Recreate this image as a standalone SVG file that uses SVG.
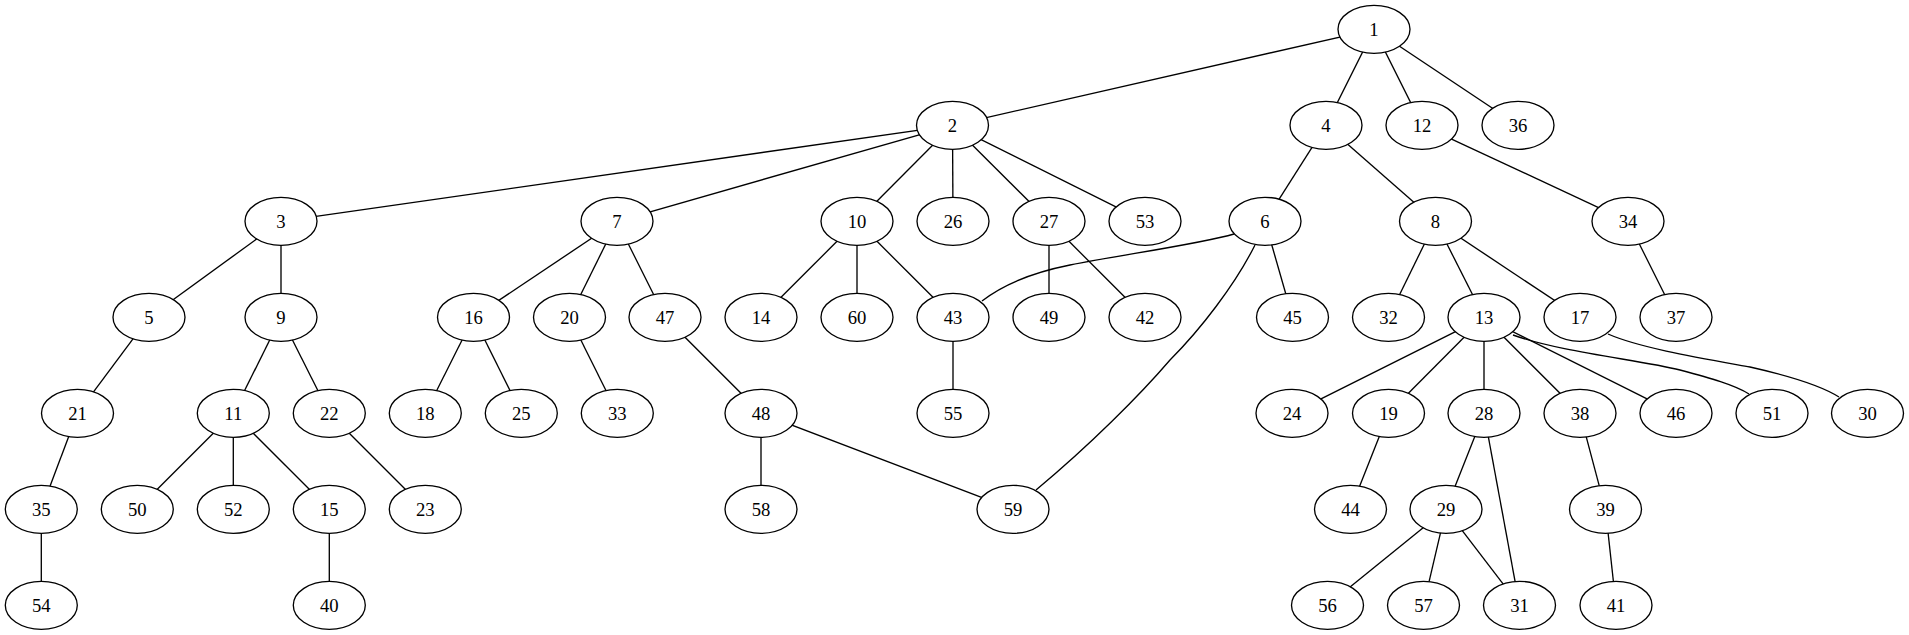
<svg xmlns="http://www.w3.org/2000/svg" width="1909" height="635" viewBox="0 0 1909 635">
<style>
.e{fill:none;stroke:#000;stroke-width:1.33}
.n ellipse{fill:#fff;stroke:#000;stroke-width:1.33}
.n text{font-family:"Liberation Serif","Times New Roman",serif;font-size:18.67px;text-anchor:middle;fill:#000}
</style>
<rect width="1909" height="635" fill="#fff"/>
<g id="edges" class="e">
<line x1="1374" y1="29.3" x2="952.5" y2="125.3"/>
<line x1="1374" y1="29.3" x2="1326" y2="125.3"/>
<line x1="1374" y1="29.3" x2="1422" y2="125.3"/>
<line x1="1374" y1="29.3" x2="1518" y2="125.3"/>
<line x1="952.5" y1="125.3" x2="281" y2="221.3"/>
<line x1="952.5" y1="125.3" x2="617" y2="221.3"/>
<line x1="952.5" y1="125.3" x2="857" y2="221.3"/>
<line x1="952.5" y1="125.3" x2="953" y2="221.3"/>
<line x1="952.5" y1="125.3" x2="1049" y2="221.3"/>
<line x1="952.5" y1="125.3" x2="1145" y2="221.3"/>
<line x1="1326" y1="125.3" x2="1265" y2="221.3"/>
<line x1="1326" y1="125.3" x2="1435.5" y2="221.3"/>
<line x1="1422" y1="125.3" x2="1628" y2="221.3"/>
<line x1="281" y1="221.3" x2="149" y2="317.3"/>
<line x1="281" y1="221.3" x2="281" y2="317.3"/>
<line x1="617" y1="221.3" x2="473.5" y2="317.3"/>
<line x1="617" y1="221.3" x2="569.5" y2="317.3"/>
<line x1="617" y1="221.3" x2="665" y2="317.3"/>
<line x1="857" y1="221.3" x2="761" y2="317.3"/>
<line x1="857" y1="221.3" x2="857" y2="317.3"/>
<line x1="857" y1="221.3" x2="953" y2="317.3"/>
<line x1="1049" y1="221.3" x2="1049" y2="317.3"/>
<line x1="1049" y1="221.3" x2="1145" y2="317.3"/>
<path d="M1234,234 C1200,244 1120,255 1070,265 C1030,273 1000,287 982,301"/>
<line x1="1265" y1="221.3" x2="1292.5" y2="317.3"/>
<path d="M1255,245 C1235,285 1200,330 1170,360 C1140,395 1090,445 1036,490"/>
<line x1="1435.5" y1="221.3" x2="1388.5" y2="317.3"/>
<line x1="1435.5" y1="221.3" x2="1484" y2="317.3"/>
<line x1="1435.5" y1="221.3" x2="1580" y2="317.3"/>
<line x1="1628" y1="221.3" x2="1676" y2="317.3"/>
<line x1="149" y1="317.3" x2="77.5" y2="413.3"/>
<line x1="281" y1="317.3" x2="233.3" y2="413.3"/>
<line x1="281" y1="317.3" x2="329.3" y2="413.3"/>
<line x1="473.5" y1="317.3" x2="425.3" y2="413.3"/>
<line x1="473.5" y1="317.3" x2="521.3" y2="413.3"/>
<line x1="569.5" y1="317.3" x2="617.3" y2="413.3"/>
<line x1="665" y1="317.3" x2="761" y2="413.3"/>
<line x1="953" y1="317.3" x2="953" y2="413.3"/>
<line x1="1484" y1="317.3" x2="1292" y2="413.3"/>
<line x1="1484" y1="317.3" x2="1388.5" y2="413.3"/>
<line x1="1484" y1="317.3" x2="1484" y2="413.3"/>
<line x1="1484" y1="317.3" x2="1580" y2="413.3"/>
<line x1="1484" y1="317.3" x2="1676" y2="413.3"/>
<path d="M1513,335 C1560,352 1640,360 1680,370 C1710,378 1735,385 1749,394"/>
<path d="M1608,334 C1640,348 1700,358 1750,367 C1790,376 1820,385 1839,397"/>
<line x1="77.5" y1="413.3" x2="41.3" y2="509.3"/>
<line x1="233.3" y1="413.3" x2="137.3" y2="509.3"/>
<line x1="233.3" y1="413.3" x2="233.3" y2="509.3"/>
<line x1="233.3" y1="413.3" x2="329.3" y2="509.3"/>
<line x1="329.3" y1="413.3" x2="425.3" y2="509.3"/>
<line x1="761" y1="413.3" x2="761" y2="509.3"/>
<line x1="761" y1="413.3" x2="1013" y2="509.3"/>
<line x1="1388.5" y1="413.3" x2="1350.5" y2="509.3"/>
<line x1="1484" y1="413.3" x2="1446" y2="509.3"/>
<line x1="1484" y1="413.3" x2="1519.5" y2="605.3"/>
<line x1="1580" y1="413.3" x2="1605.5" y2="509.3"/>
<line x1="41.3" y1="509.3" x2="41.3" y2="605.3"/>
<line x1="329.3" y1="509.3" x2="329.3" y2="605.3"/>
<line x1="1446" y1="509.3" x2="1327.5" y2="605.3"/>
<line x1="1446" y1="509.3" x2="1423.5" y2="605.3"/>
<line x1="1446" y1="509.3" x2="1519.5" y2="605.3"/>
<line x1="1605.5" y1="509.3" x2="1616" y2="605.3"/>
</g>
<g id="n1" class="n"><ellipse cx="1374" cy="29.3" rx="36" ry="24"/><text x="1374" y="35.5">1</text></g>
<g id="n2" class="n"><ellipse cx="952.5" cy="125.3" rx="36" ry="24"/><text x="952.5" y="131.5">2</text></g>
<g id="n4" class="n"><ellipse cx="1326" cy="125.3" rx="36" ry="24"/><text x="1326" y="131.5">4</text></g>
<g id="n12" class="n"><ellipse cx="1422" cy="125.3" rx="36" ry="24"/><text x="1422" y="131.5">12</text></g>
<g id="n36" class="n"><ellipse cx="1518" cy="125.3" rx="36" ry="24"/><text x="1518" y="131.5">36</text></g>
<g id="n3" class="n"><ellipse cx="281" cy="221.3" rx="36" ry="24"/><text x="281" y="227.5">3</text></g>
<g id="n7" class="n"><ellipse cx="617" cy="221.3" rx="36" ry="24"/><text x="617" y="227.5">7</text></g>
<g id="n10" class="n"><ellipse cx="857" cy="221.3" rx="36" ry="24"/><text x="857" y="227.5">10</text></g>
<g id="n26" class="n"><ellipse cx="953" cy="221.3" rx="36" ry="24"/><text x="953" y="227.5">26</text></g>
<g id="n27" class="n"><ellipse cx="1049" cy="221.3" rx="36" ry="24"/><text x="1049" y="227.5">27</text></g>
<g id="n53" class="n"><ellipse cx="1145" cy="221.3" rx="36" ry="24"/><text x="1145" y="227.5">53</text></g>
<g id="n6" class="n"><ellipse cx="1265" cy="221.3" rx="36" ry="24"/><text x="1265" y="227.5">6</text></g>
<g id="n8" class="n"><ellipse cx="1435.5" cy="221.3" rx="36" ry="24"/><text x="1435.5" y="227.5">8</text></g>
<g id="n34" class="n"><ellipse cx="1628" cy="221.3" rx="36" ry="24"/><text x="1628" y="227.5">34</text></g>
<g id="n5" class="n"><ellipse cx="149" cy="317.3" rx="36" ry="24"/><text x="149" y="323.5">5</text></g>
<g id="n9" class="n"><ellipse cx="281" cy="317.3" rx="36" ry="24"/><text x="281" y="323.5">9</text></g>
<g id="n16" class="n"><ellipse cx="473.5" cy="317.3" rx="36" ry="24"/><text x="473.5" y="323.5">16</text></g>
<g id="n20" class="n"><ellipse cx="569.5" cy="317.3" rx="36" ry="24"/><text x="569.5" y="323.5">20</text></g>
<g id="n47" class="n"><ellipse cx="665" cy="317.3" rx="36" ry="24"/><text x="665" y="323.5">47</text></g>
<g id="n14" class="n"><ellipse cx="761" cy="317.3" rx="36" ry="24"/><text x="761" y="323.5">14</text></g>
<g id="n60" class="n"><ellipse cx="857" cy="317.3" rx="36" ry="24"/><text x="857" y="323.5">60</text></g>
<g id="n43" class="n"><ellipse cx="953" cy="317.3" rx="36" ry="24"/><text x="953" y="323.5">43</text></g>
<g id="n49" class="n"><ellipse cx="1049" cy="317.3" rx="36" ry="24"/><text x="1049" y="323.5">49</text></g>
<g id="n42" class="n"><ellipse cx="1145" cy="317.3" rx="36" ry="24"/><text x="1145" y="323.5">42</text></g>
<g id="n45" class="n"><ellipse cx="1292.5" cy="317.3" rx="36" ry="24"/><text x="1292.5" y="323.5">45</text></g>
<g id="n32" class="n"><ellipse cx="1388.5" cy="317.3" rx="36" ry="24"/><text x="1388.5" y="323.5">32</text></g>
<g id="n13" class="n"><ellipse cx="1484" cy="317.3" rx="36" ry="24"/><text x="1484" y="323.5">13</text></g>
<g id="n17" class="n"><ellipse cx="1580" cy="317.3" rx="36" ry="24"/><text x="1580" y="323.5">17</text></g>
<g id="n37" class="n"><ellipse cx="1676" cy="317.3" rx="36" ry="24"/><text x="1676" y="323.5">37</text></g>
<g id="n21" class="n"><ellipse cx="77.5" cy="413.3" rx="36" ry="24"/><text x="77.5" y="419.5">21</text></g>
<g id="n11" class="n"><ellipse cx="233.3" cy="413.3" rx="36" ry="24"/><text x="233.3" y="419.5">11</text></g>
<g id="n22" class="n"><ellipse cx="329.3" cy="413.3" rx="36" ry="24"/><text x="329.3" y="419.5">22</text></g>
<g id="n18" class="n"><ellipse cx="425.3" cy="413.3" rx="36" ry="24"/><text x="425.3" y="419.5">18</text></g>
<g id="n25" class="n"><ellipse cx="521.3" cy="413.3" rx="36" ry="24"/><text x="521.3" y="419.5">25</text></g>
<g id="n33" class="n"><ellipse cx="617.3" cy="413.3" rx="36" ry="24"/><text x="617.3" y="419.5">33</text></g>
<g id="n48" class="n"><ellipse cx="761" cy="413.3" rx="36" ry="24"/><text x="761" y="419.5">48</text></g>
<g id="n55" class="n"><ellipse cx="953" cy="413.3" rx="36" ry="24"/><text x="953" y="419.5">55</text></g>
<g id="n24" class="n"><ellipse cx="1292" cy="413.3" rx="36" ry="24"/><text x="1292" y="419.5">24</text></g>
<g id="n19" class="n"><ellipse cx="1388.5" cy="413.3" rx="36" ry="24"/><text x="1388.5" y="419.5">19</text></g>
<g id="n28" class="n"><ellipse cx="1484" cy="413.3" rx="36" ry="24"/><text x="1484" y="419.5">28</text></g>
<g id="n38" class="n"><ellipse cx="1580" cy="413.3" rx="36" ry="24"/><text x="1580" y="419.5">38</text></g>
<g id="n46" class="n"><ellipse cx="1676" cy="413.3" rx="36" ry="24"/><text x="1676" y="419.5">46</text></g>
<g id="n51" class="n"><ellipse cx="1772" cy="413.3" rx="36" ry="24"/><text x="1772" y="419.5">51</text></g>
<g id="n30" class="n"><ellipse cx="1867.5" cy="413.3" rx="36" ry="24"/><text x="1867.5" y="419.5">30</text></g>
<g id="n35" class="n"><ellipse cx="41.3" cy="509.3" rx="36" ry="24"/><text x="41.3" y="515.5">35</text></g>
<g id="n50" class="n"><ellipse cx="137.3" cy="509.3" rx="36" ry="24"/><text x="137.3" y="515.5">50</text></g>
<g id="n52" class="n"><ellipse cx="233.3" cy="509.3" rx="36" ry="24"/><text x="233.3" y="515.5">52</text></g>
<g id="n15" class="n"><ellipse cx="329.3" cy="509.3" rx="36" ry="24"/><text x="329.3" y="515.5">15</text></g>
<g id="n23" class="n"><ellipse cx="425.3" cy="509.3" rx="36" ry="24"/><text x="425.3" y="515.5">23</text></g>
<g id="n58" class="n"><ellipse cx="761" cy="509.3" rx="36" ry="24"/><text x="761" y="515.5">58</text></g>
<g id="n59" class="n"><ellipse cx="1013" cy="509.3" rx="36" ry="24"/><text x="1013" y="515.5">59</text></g>
<g id="n44" class="n"><ellipse cx="1350.5" cy="509.3" rx="36" ry="24"/><text x="1350.5" y="515.5">44</text></g>
<g id="n29" class="n"><ellipse cx="1446" cy="509.3" rx="36" ry="24"/><text x="1446" y="515.5">29</text></g>
<g id="n39" class="n"><ellipse cx="1605.5" cy="509.3" rx="36" ry="24"/><text x="1605.5" y="515.5">39</text></g>
<g id="n54" class="n"><ellipse cx="41.3" cy="605.3" rx="36" ry="24"/><text x="41.3" y="611.5">54</text></g>
<g id="n40" class="n"><ellipse cx="329.3" cy="605.3" rx="36" ry="24"/><text x="329.3" y="611.5">40</text></g>
<g id="n56" class="n"><ellipse cx="1327.5" cy="605.3" rx="36" ry="24"/><text x="1327.5" y="611.5">56</text></g>
<g id="n57" class="n"><ellipse cx="1423.5" cy="605.3" rx="36" ry="24"/><text x="1423.5" y="611.5">57</text></g>
<g id="n31" class="n"><ellipse cx="1519.5" cy="605.3" rx="36" ry="24"/><text x="1519.5" y="611.5">31</text></g>
<g id="n41" class="n"><ellipse cx="1616" cy="605.3" rx="36" ry="24"/><text x="1616" y="611.5">41</text></g>
</svg>
